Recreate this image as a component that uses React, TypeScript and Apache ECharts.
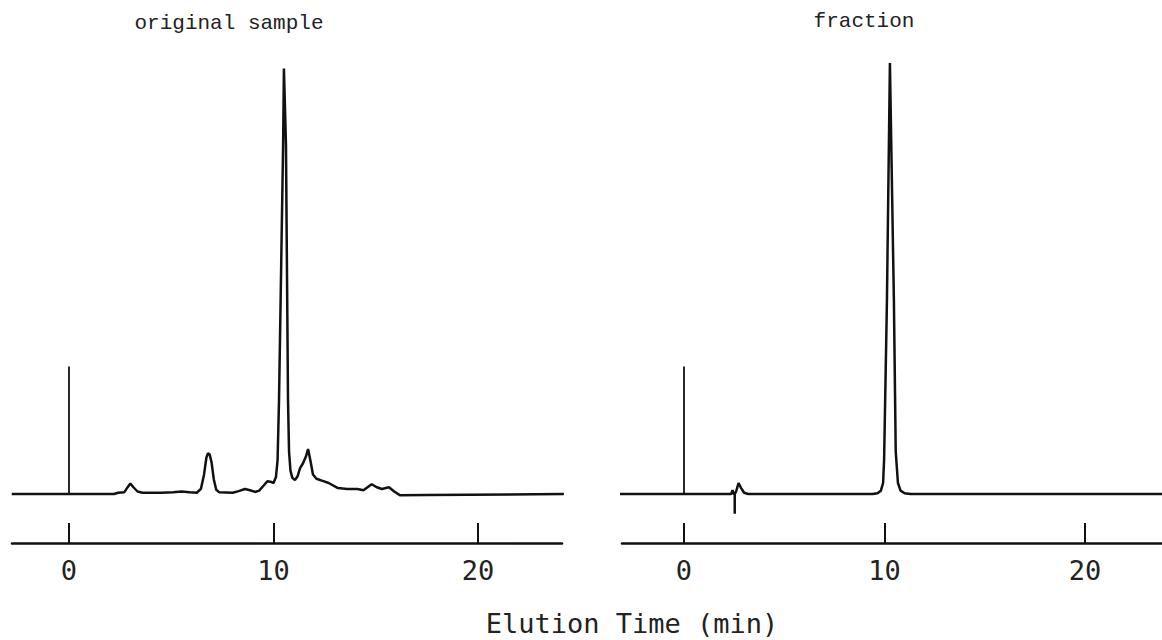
import React, { useEffect, useRef } from "react";
import * as echarts from "echarts";

// Tick labels shown on both time axes (min)
const tickValues = [0, 10, 20];

// Injection marker (time, signal)
const injTime = [0, 0];
const injSignal = [0, 30];

// original sample trace
const origTime = [
  -2.8, 2.2, 2.4, 2.7, 2.85, 3.0, 3.15, 3.35, 3.6, 4.5, 5.1, 5.5, 5.9, 6.25, 6.45, 6.6, 6.72, 6.8, 6.88,
  6.97, 7.08, 7.2, 7.35, 8.0, 8.3, 8.6, 8.85, 9.1, 9.3, 9.5, 9.7, 9.85, 10.0, 10.12, 10.2, 10.27, 10.47,
  10.51, 10.61, 10.71, 10.76, 10.83, 10.92, 11.05, 11.18, 11.3, 11.45, 11.6, 11.69, 11.8, 11.93, 12.1,
  12.4, 12.7, 13.15, 13.6, 14.1, 14.4, 14.8, 15.05, 15.3, 15.65, 15.9, 16.2, 17.5, 24.2,
];
const origSignal = [
  0, 0, 0.3, 0.4, 1.5, 2.5, 1.6, 0.6, 0.3, 0.3, 0.4, 0.6, 0.4, 0.3, 1.2, 4.5, 8.6, 9.6, 9.3,
  7.5, 3.5, 1.0, 0.4, 0.3, 0.7, 1.2, 0.9, 0.5, 0.8, 1.9, 3.0, 2.9, 2.6, 4, 8, 22, 82,
  100, 82, 22, 10, 5.5, 3.8, 3.3, 4.2, 6.1, 7.3, 9.0, 10.6, 8.0, 4.6, 3.6,
  3.1, 2.6, 1.4, 1.2, 1.2, 0.9, 2.3, 1.6, 1.2, 1.6, 0.6, -0.3, -0.2, 0,
];

// fraction trace
const fracTime = [
  -3.2, 2.35, 2.42, 2.48, 2.53, 2.53, 2.53, 2.6, 2.72, 2.85, 3.0, 3.2, 9.4, 9.65, 9.82, 9.93, 9.98,
  10.12, 10.27, 10.47, 10.56, 10.67, 10.8, 11.0, 11.3, 24,
];
const fracSignal = [
  0, 0, 0.9, 0, 0, -4.6, 0, 0.6, 2.6, 1.4, 0.3, 0, 0, 0.2, 0.8, 2.6, 8,
  45, 101.3, 45, 10, 2.6, 0.8, 0.2, 0, 0,
];

const pairs = (xs: number[], ys: number[]) => xs.map((x, i) => [x, ys[i]]);

const INK = "#111";

export default function App() {
  const ref = useRef<HTMLDivElement>(null);
  useEffect(() => {
    if (!ref.current) return;
    const chart = echarts.init(ref.current, null, { renderer: "svg" });
    const xAxisBase = (min: number, max: number, gridIndex: number) => ({
      type: "value" as const,
      gridIndex,
      min,
      max,
      axisLine: { show: true, onZero: false, lineStyle: { color: INK, width: 2.5 } },
      axisTick: {
        show: true,
        inside: true,
        length: 20,
        customValues: tickValues,
        lineStyle: { color: INK, width: 2 },
      },
      axisLabel: {
        customValues: tickValues,
        fontSize: 27,
        fontFamily: "'DejaVu Sans Mono', monospace",
        color: "#222",
        margin: 14,
      },
      splitLine: { show: false },
    });
    const yAxisBase = (gridIndex: number) => ({
      type: "value" as const,
      gridIndex,
      min: -11.5,
      max: 102,
      show: false,
    });
    const traceStyle = { color: INK, width: 2.5 };
    chart.setOption({
      animation: false,
      backgroundColor: "#fff",
      grid: [
        { left: 12, top: 60, width: 550, height: 483 },
        { left: 622, top: 60, width: 540, height: 483 },
      ],
      xAxis: [xAxisBase(-2.787, 24.108, 0), xAxisBase(-3.092, 23.84, 1)],
      yAxis: [yAxisBase(0), yAxisBase(1)],
      series: [
        {
          type: "line",
          name: "original sample",
          xAxisIndex: 0,
          yAxisIndex: 0,
          data: pairs(origTime, origSignal),
          showSymbol: false,
          lineStyle: traceStyle,
        },
        {
          type: "line",
          name: "injection",
          xAxisIndex: 0,
          yAxisIndex: 0,
          data: pairs(injTime, injSignal),
          showSymbol: false,
          lineStyle: { color: INK, width: 1.8 },
        },
        {
          type: "line",
          name: "fraction",
          xAxisIndex: 1,
          yAxisIndex: 1,
          data: pairs(fracTime, fracSignal),
          showSymbol: false,
          lineStyle: traceStyle,
        },
        {
          type: "line",
          name: "injection",
          xAxisIndex: 1,
          yAxisIndex: 1,
          data: pairs(injTime, injSignal),
          showSymbol: false,
          lineStyle: { color: INK, width: 1.8 },
        },
      ],
      graphic: [
        {
          type: "text",
          x: 229,
          y: 23,
          style: {
            text: "original sample",
            fontSize: 21,
            fontFamily: "'Liberation Mono', 'Courier New', monospace",
            fill: "#222",
            align: "center",
            verticalAlign: "middle",
          },
        },
        {
          type: "text",
          x: 864,
          y: 21,
          style: {
            text: "fraction",
            fontSize: 21,
            fontFamily: "'Liberation Mono', 'Courier New', monospace",
            fill: "#222",
            align: "center",
            verticalAlign: "middle",
          },
        },
        {
          type: "text",
          x: 632,
          y: 623,
          style: {
            text: "Elution Time (min)",
            fontSize: 27,
            fontFamily: "'DejaVu Sans Mono', monospace",
            fill: "#222",
            align: "center",
            verticalAlign: "middle",
          },
        },
      ],
    });
    return () => chart.dispose();
  }, []);
  return (
    <div
      ref={ref}
      style={{ position: "fixed", left: 0, top: 0, width: 1162, height: 640, background: "#fff" }}
    />
  );
}
